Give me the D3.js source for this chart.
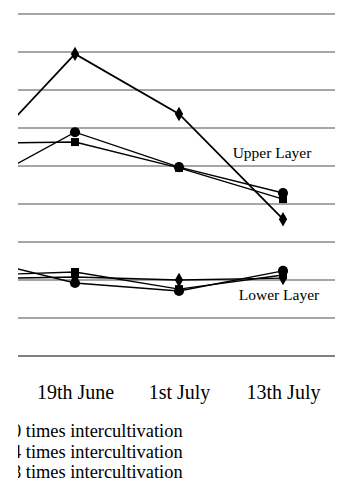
<!DOCTYPE html>
<html>
<head>
<meta charset="utf-8">
<script src="https://cdn.jsdelivr.net/npm/d3@7"></script>
<style>
  html, body { margin: 0; padding: 0; background: #fff; }
  svg { display: block; }
  text { font-family: "Liberation Serif", "Times New Roman", serif; fill: #000; }
</style>
</head>
<body>
<svg id="chart" width="339" height="482"></svg>
<script>
// Sampling dates (first one lies outside the visible crop)
const categories = ["7th June", "19th June", "1st July", "13th July"];
// Gridline values (no axis labels visible)
const gridValues = [0, 1, 2, 3, 4, 5, 6, 7, 8, 9];

// Upper layer series
const upper0 = [5.03, 7.95, 6.37, 3.60];   // diamonds
const upper4 = [5.60, 5.63, 4.95, 4.13];   // squares
const upper8 = [4.40, 5.89, 4.97, 4.29];   // circles
// Lower layer series
const lower0 = [2.03, 2.08, 2.00, 2.05];   // diamonds
const lower4 = [2.12, 2.21, 1.76, 2.13];   // squares
const lower8 = [2.59, 1.92, 1.71, 2.24];   // circles

const legendLabels = ["0 times intercultivation", "4 times intercultivation", "8 times intercultivation"];

const series = [
  { values: upper8, shape: d3.symbolCircle, size: 80, width: 1.4 },
  { values: upper4, shape: d3.symbolSquare, size: 64, width: 1.4 },
  { values: upper0, shape: d3.symbolDiamond, size: 60, width: 1.8 },
  { values: lower8, shape: d3.symbolCircle, size: 80, width: 1.4 },
  { values: lower4, shape: d3.symbolSquare, size: 64, width: 1.4 },
  { values: lower0, shape: d3.symbolDiamond, size: 60, width: 1.4 }
];

const svg = d3.select("#chart");
const x = d3.scalePoint().domain(categories).range([-29, 283]);
const y = d3.scaleLinear().domain([0, 9]).range([356, 14]);

// The reference is cropped: everything left of x = 18 is blank
svg.append("defs").append("clipPath").attr("id", "cropclip")
  .append("rect").attr("x", 18).attr("y", 0).attr("width", 321).attr("height", 482);

const root = svg.append("g").attr("clip-path", "url(#cropclip)");

// Gridlines
root.selectAll("line.grid").data(gridValues).enter().append("line")
  .attr("class", "grid")
  .attr("x1", -60).attr("x2", 335)
  .attr("y1", d => y(d)).attr("y2", d => y(d))
  .attr("stroke", d => d === 0 ? "#808080" : "#a6a6a6")
  .attr("stroke-width", 2);

// X axis labels (the first date's label lies outside the crop)
const xAxis = d3.axisBottom(x).tickSize(0).tickPadding(0)
  .tickFormat((d, i) => i === 0 ? "" : d);
const ax = root.append("g").attr("transform", `translate(0,${y(0)})`).call(xAxis);
ax.select(".domain").remove();
ax.selectAll("text")
  .attr("y", 0).attr("dy", 0)
  .attr("transform", "translate(0,43)")
  .style("font-family", '"Liberation Serif", "Times New Roman", serif')
  .style("font-size", "20px")
  .attr("fill", "#000");

// Lines and markers
const line = d3.line().x((d, i) => x(categories[i])).y(d => y(d));
series.forEach(s => {
  root.append("path").datum(s.values)
    .attr("d", line)
    .attr("fill", "none")
    .attr("stroke", "#000")
    .attr("stroke-width", s.width);
  root.selectAll(null).data(s.values).enter().append("path")
    .attr("d", d3.symbol().type(s.shape).size(s.size))
    .attr("transform", (d, i) => `translate(${x(categories[i])},${y(d)})`)
    .attr("fill", "#000");
});

// Layer annotations
root.append("text").attr("x", 272).attr("y", 158).attr("text-anchor", "middle")
  .style("font-size", "15.5px").text("Upper Layer");
root.append("text").attr("x", 279).attr("y", 300).attr("text-anchor", "middle")
  .style("font-size", "15.5px").text("Lower Layer");

// Legend (left part cut off in the reference)
root.selectAll("text.legend").data(legendLabels).enter().append("text")
  .attr("class", "legend")
  .attr("x", 12)
  .attr("y", (d, i) => 437 + i * 20.5)
  .style("font-size", "18.4px")
  .text(d => d);
</script>
</body>
</html>
